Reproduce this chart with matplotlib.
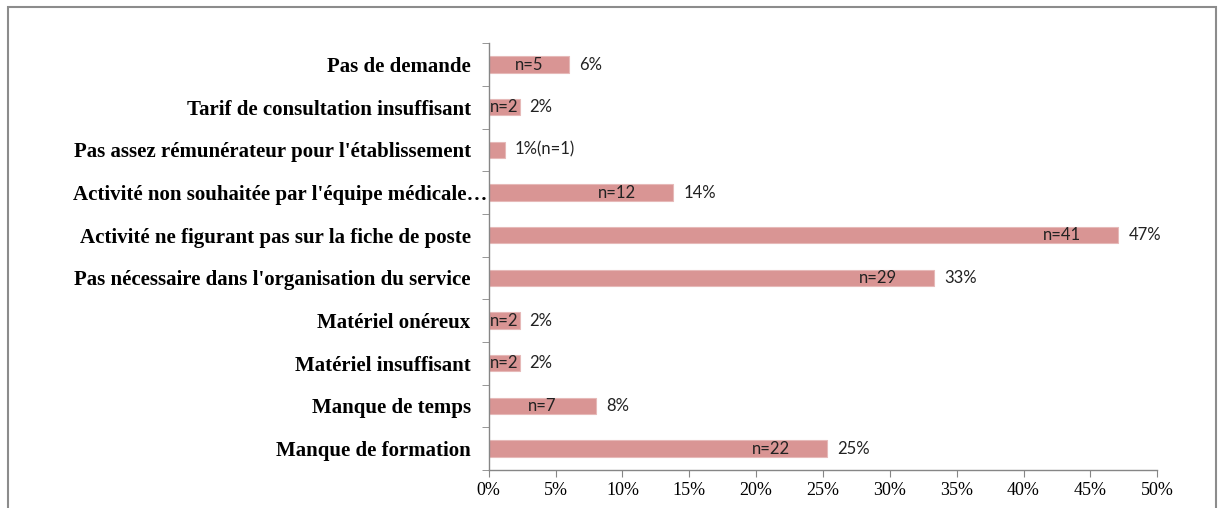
import matplotlib.pyplot as plt
from matplotlib.patches import Rectangle
import numpy as np

# --- Data (top to bottom) ---
categories = [
    "Pas de demande",
    "Tarif de consultation insuffisant",
    "Pas assez rémunérateur pour l'établissement",
    "Activité non souhaitée par l'équipe médicale…",
    "Activité ne figurant pas sur la fiche de poste",
    "Pas nécessaire dans l'organisation du service",
    "Matériel onéreux",
    "Matériel insuffisant",
    "Manque de temps",
    "Manque de formation",
]
percent = [6.0, 2.3, 1.2, 13.8, 47.1, 33.3, 2.3, 2.3, 8.0, 25.3]
counts = [5, 2, 1, 12, 41, 29, 2, 2, 7, 22]
pct_labels = ["6%", "2%", "1%", "14%", "47%", "33%", "2%", "2%", "8%", "25%"]
xticks = [0, 5, 10, 15, 20, 25, 30, 35, 40, 45, 50]

BAR = '#d99594'
AXIS = '#868686'

fig = plt.figure(figsize=(12.22, 5.08), dpi=100)
ax = fig.add_axes([0.400, 0.075, 0.547, 0.840])

y = np.arange(len(categories))
ax.barh(y, percent, height=0.38, color=BAR, edgecolor='#e6b9b8', linewidth=0.8)
ax.set_ylim(len(categories) - 0.5, -0.5)
ax.set_xlim(0, 50)

ax.set_yticks(y)
ax.set_yticklabels(categories, fontfamily='Liberation Serif', fontweight='bold', fontsize=15)
ax.set_yticks(np.arange(len(categories) + 1) - 0.5, minor=True)
ax.tick_params(axis='y', which='major', length=0, pad=13)
ax.tick_params(axis='y', which='minor', length=5, color=AXIS, direction='out')
# the long truncated label runs up to the axis in the original
ax.get_yticklabels()[3].set_x(0.0)
ax.get_yticklabels()[3].set_transform(
    ax.get_yaxis_transform(which='tick1') + 
    plt.matplotlib.transforms.ScaledTranslation(-1 / 100, 0, fig.dpi_scale_trans))

ax.set_xticks(xticks)
ax.set_xticklabels([f"{t}%" for t in xticks], fontfamily='Liberation Serif', fontsize=13)
ax.tick_params(axis='x', length=5, color=AXIS, direction='out', pad=4)

for s in ['top', 'right']:
    ax.spines[s].set_visible(False)
for s in ['left', 'bottom']:
    ax.spines[s].set_color(AXIS)
    ax.spines[s].set_linewidth(1)

# data labels
for i, (v, n, lab) in enumerate(zip(percent, counts, pct_labels)):
    if n == 1:
        ax.text(v + 0.75, i, lab + "(n=1)", va='center', ha='left',
                fontfamily='Lato', fontsize=12, color='#222222')
        continue
    ax.text(v + 0.75, i, lab, va='center', ha='left',
            fontfamily='Lato', fontsize=12, color='#222222')
    cx = max(v / 2, v - 4.2)
    ax.text(cx, i, f"n={n}", va='center', ha='center',
            fontfamily='Lato', fontsize=12, color='#222222')

# outer frame
fig.patches.append(Rectangle((8 / 1222, -0.05), 1208 / 1222, 1.05 - 7 / 508,
                             transform=fig.transFigure, fill=False,
                             edgecolor='#8c8c8c', linewidth=1.5))

fig.savefig('out.png', dpi=100)
